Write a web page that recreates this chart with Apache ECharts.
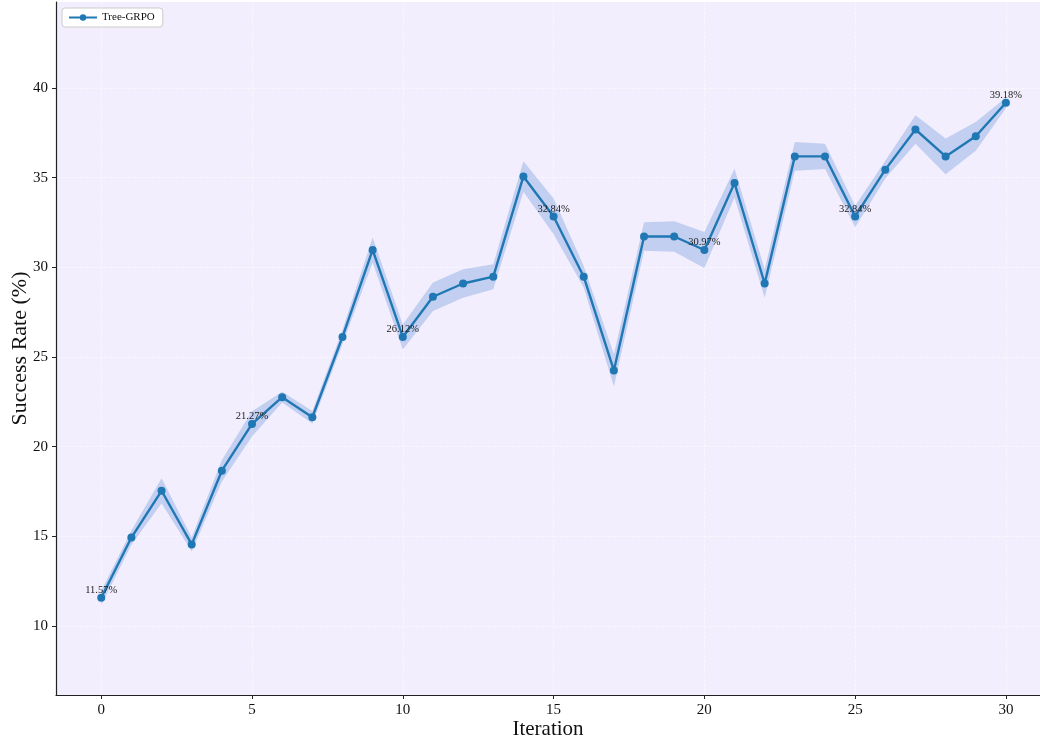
<!DOCTYPE html>
<html>
<head>
<meta charset="utf-8">
<script src="https://cdn.jsdelivr.net/npm/echarts@6/dist/echarts.min.js"></script>
<style>
  html, body { margin: 0; padding: 0; background: #ffffff; }
  #chart { width: 1040px; height: 740px; }
</style>
</head>
<body>
<div id="chart"></div>
<script>
// Success rate per training iteration (percent)
const iterations = [0,1,2,3,4,5,6,7,8,9,10,11,12,13,14,15,16,17,18,19,20,21,22,23,24,25,26,27,28,29,30];
const successRate = [11.57,14.93,17.54,14.55,18.66,21.27,22.76,21.64,26.12,30.97,26.12,28.36,29.10,29.48,35.07,32.84,29.48,24.25,31.72,31.72,30.97,34.70,29.10,36.19,36.19,32.84,35.45,37.69,36.19,37.31,39.18];
// Half-width of the shaded spread around each point
const spread = [0.4,0.4,0.7,0.4,0.6,0.7,0.3,0.35,0.4,0.7,0.7,0.8,0.8,0.7,0.85,1.0,0.6,0.9,0.8,0.85,1.0,0.8,0.8,0.8,0.7,0.6,0.5,0.8,1.0,0.8,0.3];
// Iterations whose value is written next to the point
const labelledIters = [0,5,10,15,20,25,30];
const yTicks = [10,15,20,25,30,35,40];
const xTicks = [0,5,10,15,20,25,30];

const serif = '"Liberation Serif", "DejaVu Serif", serif';
const lineColor = '#1f77b4';

const lineData = iterations.map((x, i) => [x, successRate[i]]);
const bandData = iterations.map((x, i) => [x, successRate[i] - spread[i], successRate[i] + spread[i]]);

const chart = echarts.init(document.getElementById('chart'), null, { renderer: 'canvas' });

chart.setOption({
  backgroundColor: '#ffffff',
  animation: false,
  grid: {
    left: 56, right: 0, top: 2, bottom: 45,
    outerBoundsMode: 'none',
    containLabel: false,
    show: true,
    backgroundColor: '#f2eefd',
    borderWidth: 0
  },
  legend: {
    data: ['Tree-GRPO'],
    left: 62, top: 8,
    backgroundColor: '#ffffff',
    borderColor: '#cccccc',
    borderWidth: 1,
    borderRadius: 3,
    padding: [4, 8, 4, 6],
    itemWidth: 28,
    itemHeight: 8,
    itemGap: 6,
    textStyle: { fontFamily: serif, fontSize: 11, color: '#111' }
  },
  xAxis: {
    type: 'value',
    min: -1.5,
    max: 31.13,
    name: 'Iteration',
    nameLocation: 'middle',
    nameMoveOverlap: false,
    nameGap: 24,
    nameTextStyle: { fontFamily: serif, fontSize: 21, color: '#111' },
    axisLine: { show: true, onZero: false, lineStyle: { color: '#222', width: 1.2 } },
    axisTick: { show: true, length: 4, customValues: xTicks, lineStyle: { color: '#222' } },
    axisLabel: { customValues: xTicks, fontFamily: serif, fontSize: 15, color: '#111', margin: 8 },
    splitLine: { show: true, lineStyle: { color: 'rgba(255,255,255,0.7)', type: 'dashed', width: 0.8 } }
  },
  yAxis: {
    type: 'value',
    min: 6.15,
    max: 44.8,
    name: 'Success Rate (%)',
    nameLocation: 'middle',
    nameMoveOverlap: false,
    nameGap: 25,
    nameTextStyle: { fontFamily: serif, fontSize: 22, color: '#111' },
    axisLine: { show: true, onZero: false, lineStyle: { color: '#222', width: 1.2 } },
    axisTick: { show: true, length: 4, customValues: yTicks, lineStyle: { color: '#222' } },
    axisLabel: { customValues: yTicks, fontFamily: serif, fontSize: 15, color: '#111', margin: 8 },
    splitLine: { show: true, lineStyle: { color: 'rgba(255,255,255,0.7)', type: 'dashed', width: 0.8 } }
  },
  series: [
    {
      name: 'spread',
      type: 'custom',
      data: bandData,
      z: 1,
      silent: true,
      renderItem: function (params, api) {
        if (params.dataIndex !== 0) return;
        const upper = bandData.map(d => api.coord([d[0], d[2]]));
        const lower = bandData.map(d => api.coord([d[0], d[1]])).reverse();
        return {
          type: 'polygon',
          shape: { points: upper.concat(lower) },
          style: { fill: 'rgba(40,110,205,0.24)', stroke: 'none' }
        };
      }
    },
    {
      name: 'Tree-GRPO',
      type: 'line',
      data: lineData,
      z: 3,
      symbol: 'circle',
      symbolSize: 8,
      lineStyle: { color: lineColor, width: 2.4 },
      itemStyle: { color: lineColor },
      label: {
        show: true,
        position: 'top',
        distance: -2,
        fontFamily: serif,
        fontSize: 10.5,
        color: '#222',
        formatter: p => labelledIters.includes(p.data[0]) ? p.data[1].toFixed(2) + '%' : ''
      }
    }
  ]
});
</script>
</body>
</html>
